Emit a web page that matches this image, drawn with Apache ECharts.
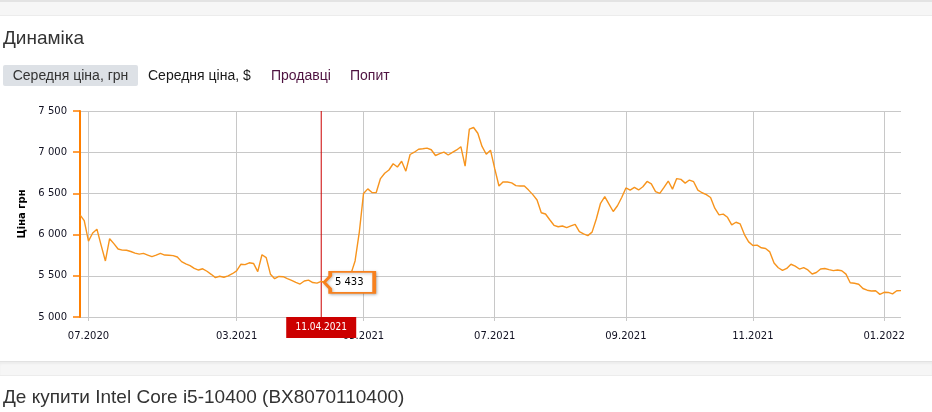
<!DOCTYPE html>
<html>
<head>
<meta charset="utf-8">
<script src="https://cdn.jsdelivr.net/npm/echarts@6/dist/echarts.min.js"></script>
<style>
  html, body { margin: 0; padding: 0; width: 932px; height: 412px; overflow: hidden; background: #fff; }
  body { position: relative; font-family: 'Liberation Sans', Arial, sans-serif; color: #333; }
  .band { position: absolute; left: 0; width: 932px; background: #f6f6f6; z-index: 0; }
  .band.top { top: 0; height: 13px; border-top: 2px solid #e3e3e3; border-bottom: 1px solid #ececec; }
  .band.bottom { top: 361px; height: 13px; border-top: 1px solid #e2e2e2; border-bottom: 1px solid #ececec; box-shadow: inset 0 2px 2px rgba(0,0,0,0.04); }
  #chart { position: absolute; left: 0; top: 0; width: 932px; height: 412px; z-index: 1; }
  .h { position: absolute; left: 3px; font-size: 19px; color: #333; z-index: 2; white-space: nowrap; }
  .tabs { position: absolute; left: 3px; top: 65px; height: 21px; z-index: 2; font-size: 14px; white-space: nowrap; }
  .tab { position: absolute; top: 0; height: 21px; line-height: 21px; }
  .tab.sel { left: 0; width: 135px; background: #dde1e6; border-radius: 2px; color: #333; text-align: center; }
</style>
</head>
<body>
<div class="band top"></div>
<div class="h" style="top:27px;">Динаміка</div>
<div class="tabs">
  <div class="tab sel">Середня ціна, грн</div>
  <div class="tab" style="left:145px;color:#1a1a1a;">Середня ціна, $</div>
  <div class="tab" style="left:268px;color:#4e1240;">Продавці</div>
  <div class="tab" style="left:347px;color:#4e1240;">Попит</div>
</div>
<div id="chart"></div>
<div class="band bottom"></div>
<div class="h" style="top:386px;">Де купити Intel Core i5-10400 (BX8070110400)</div>
<script>
// ---- categories (dates): weekly points, then every second day ----
const earlyStart = '2020-06-22', earlyCount = 36, earlyStep = 7;
const lateStart = '2021-02-28', lateCount = 159, lateStep = 2;

// ---- tick labels on the x axis ----
const tickDates = ['2020-07-06', '2021-03-02', '2021-05-01', '2021-07-02', '2021-09-02', '2021-11-01', '2022-01-02'];
const tickLabels = ['07.2020', '03.2021', '05.2021', '07.2021', '09.2021', '11.2021', '01.2022'];

// ---- y axis ticks ----
const yTicks = [5000, 5500, 6000, 6500, 7000, 7500];

// ---- average price, UAH ----
const priceEarly = [
  6240, 6170, 5920, 6020, 6066, 5870, 5680, 5950, 5890, 5825,
  5812, 5810, 5795, 5775, 5763, 5772, 5752, 5732, 5750, 5772,
  5752, 5750, 5745, 5728, 5672, 5645, 5623, 5590, 5570, 5585,
  5555, 5518, 5478, 5495, 5482, 5500
];
const priceLate = [
  5525, 5560, 5640, 5635, 5658, 5650, 5550, 5755, 5720, 5520,
  5465, 5492, 5489, 5466, 5445, 5420, 5400, 5437, 5448, 5418,
  5411, 5433, 5420, 5410, 5400, 5395, 5390, 5400, 5520, 5680,
  6030, 6500, 6555, 6510, 6510, 6680, 6745, 6784, 6860, 6820,
  6890, 6770, 6972, 7000, 7036, 7042, 7050, 7030, 6960, 6982,
  7000, 6966, 6998, 7027, 7067, 6830, 7280, 7300, 7230, 7070,
  6975, 7025, 6800, 6590, 6640, 6638, 6628, 6595, 6590, 6590,
  6540, 6485, 6420, 6265, 6250, 6180, 6113, 6095, 6104, 6085,
  6106, 6125, 6035, 6008, 5988, 6030, 6190, 6380, 6460, 6370,
  6280, 6350, 6450, 6566, 6540, 6572, 6542, 6580, 6645, 6615,
  6522, 6500, 6572, 6650, 6552, 6680, 6670, 6625, 6662, 6642,
  6540, 6508, 6485, 6450, 6320, 6240, 6248, 6210, 6117, 6150,
  6130, 6000, 5912, 5867, 5872, 5840, 5832, 5790, 5655, 5598,
  5566, 5590, 5640, 5618, 5582, 5600, 5571, 5522, 5540, 5583,
  5588, 5575, 5563, 5570, 5562, 5520, 5415, 5409, 5398, 5346,
  5325, 5315, 5318, 5275, 5300, 5298, 5280, 5318, 5320
];

// ---- highlighted point ----
const markDate = '2021-04-11';
const markDateLabel = '11.04.2021';
const markValue = 5433;

function buildDates(start, count, step) {
  const out = [];
  const d0 = new Date(start + 'T00:00:00Z');
  for (let i = 0; i < count; i++) {
    const d = new Date(d0.getTime() + i * step * 86400000);
    out.push(d.toISOString().slice(0, 10));
  }
  return out;
}
const dates = buildDates(earlyStart, earlyCount, earlyStep).concat(buildDates(lateStart, lateCount, lateStep));
const prices = priceEarly.concat(priceLate);

const fmt = v => String(v).replace(/\B(?=(\d{3})+(?!\d))/g, ' ');
const isTick = (i, v) => tickDates.indexOf(v) >= 0;
const RED = '#cc0000';
const yMin = yTicks[0], yMax = yTicks[yTicks.length - 1];

const chart = echarts.init(document.getElementById('chart'), null, { renderer: 'canvas' });
chart.setOption({
  animation: false,
  backgroundColor: 'transparent',
  textStyle: { fontFamily: 'DejaVu Sans' },
  tooltip: { show: false },
  grid: { left: 80, right: 31, top: 111, bottom: 95 },
  xAxis: {
    type: 'category',
    data: dates,
    boundaryGap: false,
    axisLine: { show: false },
    axisTick: { show: true, interval: isTick, length: 4, lineStyle: { color: '#c8c8c8' } },
    axisLabel: {
      interval: isTick,
      formatter: v => tickLabels[tickDates.indexOf(v)],
      color: '#111122', fontSize: 10, margin: 14, fontFamily: 'DejaVu Sans'
    },
    splitLine: { show: true, interval: isTick, lineStyle: { color: '#c8c8c8', width: 1 } }
  },
  yAxis: {
    type: 'value',
    min: yMin, max: yMax, interval: yTicks[1] - yTicks[0],
    name: 'Ціна грн', nameLocation: 'middle', nameGap: 53, nameRotate: 90,
    nameTextStyle: { fontWeight: 'bold', fontSize: 10, color: '#000', fontFamily: 'DejaVu Sans' },
    axisLine: { show: true, lineStyle: { color: '#ff7f00', width: 2 } },
    axisTick: { show: true, length: 7, lineStyle: { color: '#ff7f00', width: 1.5 } },
    axisLabel: { formatter: fmt, color: '#111122', fontSize: 10, margin: 13, fontFamily: 'DejaVu Sans' },
    splitLine: { show: true, lineStyle: { color: '#c8c8c8', width: 1 } }
  },
  series: [{
    type: 'line',
    name: 'price',
    data: prices,
    showSymbol: false,
    symbol: 'none',
    silent: true,
    z: 3,
    lineStyle: { color: '#f7941d', width: 1.4 },
    itemStyle: { color: '#f7941d' },
    markPoint: {
      silent: true,
      animation: false,
      symbol: 'path://M0,10 L6,4 L6,0 L50,0 L50,20 L6,20 L6,16 Z',
      symbolSize: [50, 21],
      symbolOffset: [28, 1],
      itemStyle: {
        color: '#fff', borderColor: '#f7811e', borderWidth: 2.5,
        shadowBlur: 3, shadowColor: 'rgba(0,0,0,0.25)', shadowOffsetX: 1, shadowOffsetY: 1
      },
      label: { show: true, position: 'inside', formatter: () => fmt(markValue), color: '#000', fontSize: 10, fontFamily: 'DejaVu Sans' },
      data: [{ coord: [markDate, markValue], value: markValue }]
    }
  }, {
    type: 'line',
    name: 'cursor',
    data: [[markDate, yMin], [markDate, yMax]],
    showSymbol: false,
    symbol: 'none',
    silent: true,
    z: 2,
    lineStyle: { color: RED, width: 1 },
    itemStyle: { color: RED },
    markPoint: {
      silent: true,
      animation: false,
      symbol: 'rect',
      symbolSize: [70, 21],
      symbolOffset: [0, 10.5],
      itemStyle: { color: RED },
      label: {
        show: true, position: 'inside', formatter: markDateLabel,
        color: '#fff', fontSize: 10, fontFamily: 'DejaVu Sans Condensed'
      },
      data: [{ coord: [markDate, yMin] }]
    }
  }]
});
</script>
</body>
</html>
